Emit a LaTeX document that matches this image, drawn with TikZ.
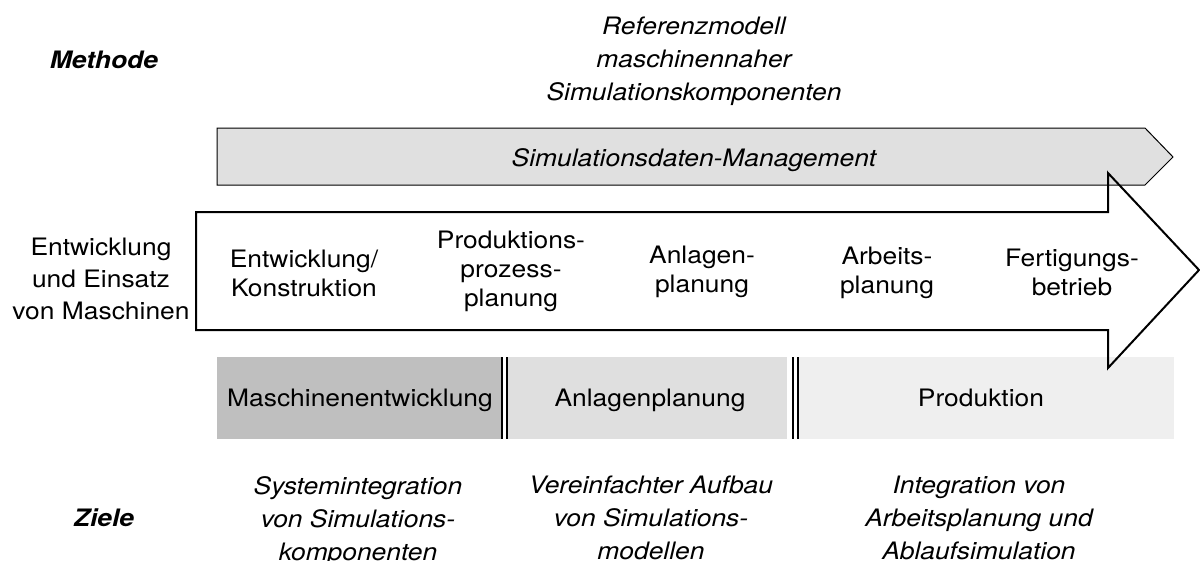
\documentclass[tikz,border=0pt]{standalone}
\usepackage{fontspec}
\setmainfont{TeX Gyre Heros}[FakeStretch=1.1]
\definecolor{arrowgray}{HTML}{E0E0E0}
\definecolor{barA}{HTML}{BFBFBF}
\definecolor{barB}{HTML}{DFDFDF}
\definecolor{barC}{HTML}{EFEFEF}
\begin{document}
\begin{tikzpicture}[x=1pt,y=-1pt,
  txt/.style={font=\fontsize{24}{29}\selectfont, align=center, inner sep=0pt},
  lbl/.style={font=\fontsize{24}{32}\selectfont, align=center, inner sep=0pt},
  ital/.style={font=\fontsize{24}{33}\selectfont\itshape, align=center, inner sep=0pt},
  head/.style={font=\fontsize{24}{29}\selectfont\bfseries\itshape, inner sep=0pt},
  dbl/.style={line width=2.3pt}]
\path[use as bounding box] (0,0) rectangle (1200,560);
% Bars
\fill[barA] (217,357) rectangle (502,439);
\fill[barB] (507,357) rectangle (787,439);
\fill[barC] (799,357) rectangle (1174,439);
\draw[dbl] (502,357) -- (502,439);
\draw[dbl] (507,357) -- (507,439);
\draw[dbl] (793,357) -- (793,439);
\draw[dbl] (798,357) -- (798,439);
% Simulation data management arrow
\draw[fill=arrowgray, line width=1pt, line join=miter]
  (217,128) -- (1145,128) -- (1173,157) -- (1145,185) -- (217,185) -- cycle;
% Big process arrow (outline only)
\draw[line width=2pt, line join=miter]
  (196,212) -- (1108,212) -- (1108,173) -- (1199,270) -- (1108,368) -- (1108,330) -- (196,330) -- cycle;
% Texts
\node[head, anchor=base] (methode) at (104,68) {Methode};
\node[ital] (ref) at (694,61) {Referenzmodell\\maschinennaher\\Simulationskomponenten};
\node[ital, anchor=base] (sdm) at (694,166) {Simulationsdaten-Management};
\node[lbl] (ent) at (101,279) {Entwicklung\\und Einsatz\\von Maschinen};
\node[txt] (s1) at (304,273) {Entwicklung/\\Konstruktion};
\node[txt] (s2) at (511,271) {Produktions-\\prozess-\\planung};
\node[txt] (s3) at (702,272) {Anlagen-\\planung};
\node[txt] (s4) at (887,273) {Arbeits-\\planung};
\node[txt] (s5) at (1072,272) {Fertigungs-\\betrieb};
\node[txt, anchor=base] (b1) at (360,406) {Maschinenentwicklung};
\node[txt, anchor=base] (b2) at (650,406) {Anlagenplanung};
\node[txt, anchor=base] (b3) at (981,406) {Produktion};
\node[head, anchor=base] (ziele) at (104,526) {Ziele};
\node[ital, anchor=north] (z1) at (358,476) {Systemintegration\\von Simulations-\\komponenten};
\node[ital, anchor=north] (z2) at (651,476) {Vereinfachter Aufbau\\von Simulations-\\modellen};
\node[ital, anchor=north] (z3) at (979,476) {Integration von\\Arbeitsplanung und\\Ablaufsimulation};
\end{tikzpicture}
\end{document}
